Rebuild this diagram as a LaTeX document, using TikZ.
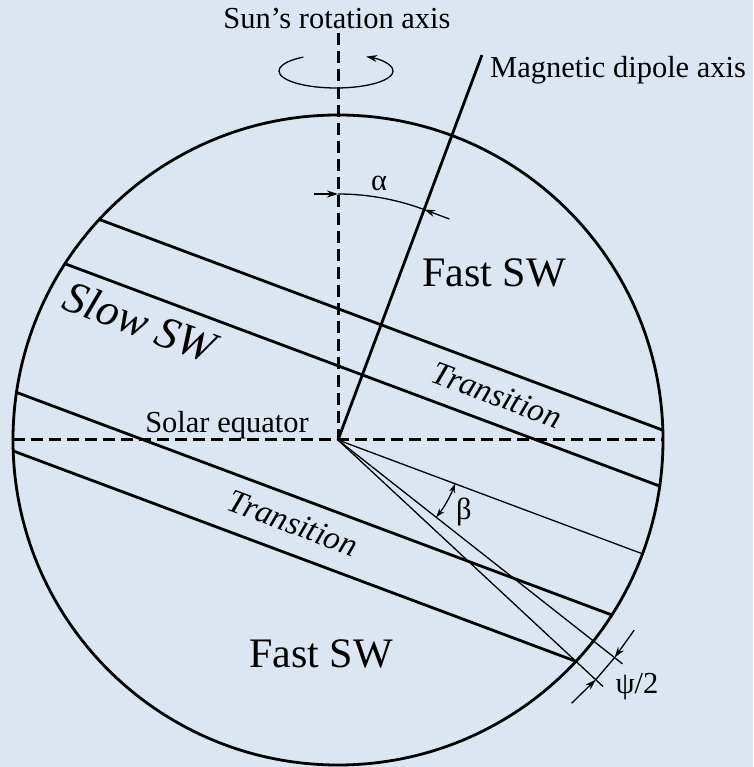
\documentclass[tikz,border=0pt]{standalone}
\usepackage{fontspec}
\setmainfont{Liberation Serif}
\usetikzlibrary{arrows.meta}
\definecolor{bgblue}{RGB}{220,230,242}
\begin{document}
\begin{tikzpicture}[x=1pt,y=1pt,
  thickline/.style={line width=2.8pt},
  thinline/.style={line width=1.3pt},
  dashline/.style={line width=3pt, dash pattern=on 12pt off 6pt},
  tipend/.style={-{Stealth[length=11pt,width=7pt]}},
  tipboth/.style={{Stealth[length=9pt,width=6pt]}-{Stealth[length=9pt,width=6pt]}},
  lbl/.style={font=\fontsize{30.5}{36}\selectfont, inner sep=0pt},
  biglbl/.style={font=\fontsize{42}{50}\selectfont, inner sep=0pt},
  itlbl/.style={font=\fontsize{33}{38}\selectfont\itshape, inner sep=0pt, rotate=-20.5},
  bigit/.style={font=\fontsize{45}{52}\selectfont\itshape, inner sep=0pt, rotate=-20.5}]
\fill[bgblue] (-338,-327) rectangle (415,440);
\useasboundingbox (-338,-327) rectangle (415,440);
\coordinate (O) at (0,0);
% sphere
\draw[thickline] (O) circle[radius=325];
% rotation axis and equator
\coordinate (axTop) at (0,407);
\draw[dashline] (axTop) -- (O);
\coordinate (eqL) at (-325,0);
\coordinate (eqR) at (325,0);
\draw[dashline] (eqL) -- (eqR);
% magnetic dipole axis
\coordinate (magTop) at (69.5:411);
\draw[thickline] (O) -- (magTop);
% rotation ellipse
\coordinate (ellC) at (-2,369);
\draw[thinline, tipend] ([shift={(125:57 and 17)}]ellC) arc[start angle=125, end angle=418, x radius=57, y radius=17];
% alpha arc
\coordinate (aL) at (90:246);
\coordinate (aR) at (69.5:246);
\coordinate (aLs) at (-24,246);
\coordinate (aRs) at (111.4,221.0);
\draw[thinline] (aL) arc[start angle=90, end angle=69.5, radius=246];
\draw[thinline, tipend] (aLs) -- (aL);
\draw[thinline, tipend] (aRs) -- (aR);
\node[lbl] (alpha) at (41,257) {α};
% bands in the magnetic frame
\begin{scope}[rotate=-20.5]
  \coordinate (A1) at (-300.83,123);  \coordinate (A2) at (300.83,123);
  \coordinate (B1) at (-317.48,69.5); \coordinate (B2) at (317.48,69.5);
  \coordinate (C1) at (-317.80,-68);  \coordinate (C2) at (317.80,-68);
  \coordinate (D1) at (-300.41,-124); \coordinate (D2) at (300.41,-124);
  \draw[thickline] (A1) -- (A2);
  \draw[thickline] (B1) -- (B2);
  \draw[thickline] (C1) -- (C2);
  \draw[thickline] (D1) -- (D2);
  \coordinate (R1) at (0:325);
  \coordinate (R2) at (-17.7:362);
  \coordinate (R3) at (-22.43:362);
  \draw[thinline] (O) -- (R1);
  \draw[thinline] (O) -- (R2);
  \draw[thinline] (O) -- (R3);
  \coordinate (b1) at (0:125);
  \draw[thinline, tipboth] (b1) arc[start angle=0, end angle=-17.7, radius=125];
  \coordinate (P1) at (-12.2:352);
  \coordinate (P2) at (-17.7:352);
  \coordinate (P3) at (-22.43:352);
  \coordinate (P4) at (-27.9:352);
  \draw[thinline, tipend] (P1) -- (P2);
  \draw[thinline] (P2) -- (P3);
  \draw[thinline, tipend] (P4) -- (P3);
\end{scope}
% labels
\node[lbl, anchor=base] (sunax) at (-1,411) {Sun’s rotation axis};
\node[lbl, anchor=base west] (magax) at (152,362) {Magnetic dipole axis};
\node[lbl, anchor=base] (soleq) at (-111,7) {Solar equator};
\node[biglbl, anchor=base] (fast1) at (156,153) {Fast SW};
\node[biglbl, anchor=base] (fast2) at (-17,-227) {Fast SW};
\node[bigit] (slow) at (-198,118) {Slow SW};
\node[itlbl] (trans1) at (159,45) {Transition};
\node[itlbl] (trans2) at (-45,-83) {Transition};
\node[lbl] (beta) at (126,-72) {β};
\node[lbl] (psi) at (299,-247) {ψ/2};
\end{tikzpicture}
\end{document}
